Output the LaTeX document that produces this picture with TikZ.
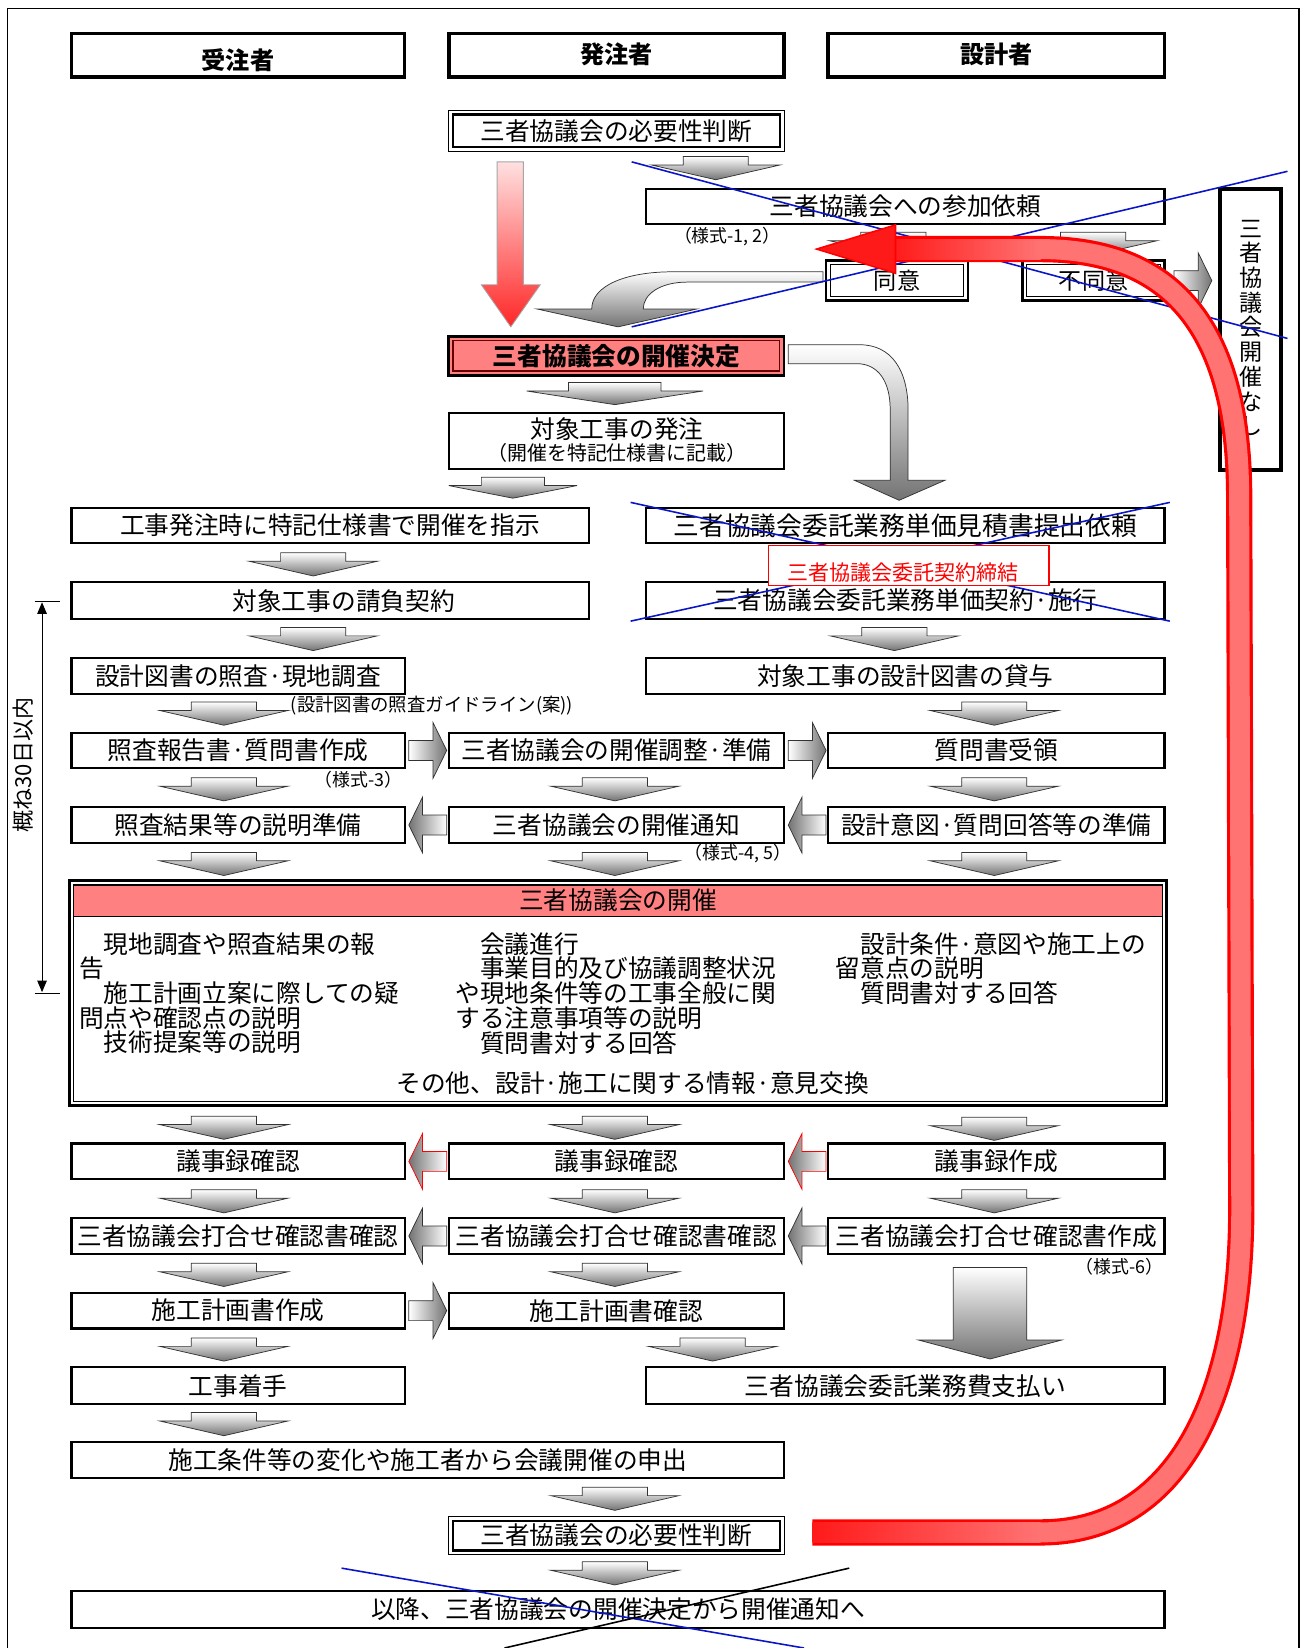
\documentclass[tikz,border=0pt]{standalone}
\usepackage{fontspec}
\setmainfont{Noto Sans CJK JP}
\usetikzlibrary{arrows.meta,calc}
\newcommand\fs[1]{\fontsize{#1}{#1}\selectfont}
\definecolor{salmon}{HTML}{FF8080}
\definecolor{redA}{HTML}{FF1A1A}
\definecolor{redB}{HTML}{FF7373}
\definecolor{lineblue}{HTML}{0A14C8}
\newcommand\bx[7][]{\node[box,minimum width={#5-#3},minimum height={#6-#4},#1] (#2) at ({(#3+#5)/2},{(#4+#6)/2}) {#7};}
\newcommand\innerbox[3]{\draw[line width=#2] ([shift={(#3pt,-#3pt)}]#1.north west) rectangle ([shift={(-#3pt,#3pt)}]#1.south east);}
\newcommand\darr[6]{\draw[barrow,top color=white,bottom color=black!55] ({#1-#4},#2) -- ({#1+#4},#2) -- ({#1+#4},{#2+#5}) -- ({#1+#3},{#2+#5}) -- (#1,{#2+#5+#6}) -- ({#1-#3},{#2+#5}) -- ({#1-#4},{#2+#5}) -- cycle;}
\newcommand\dstd[2]{\darr{#1}{#2}{61}{31}{8}{14}}
\newcommand\rarr[3][black!80]{\draw[barrow,draw=#1,left color=white,right color=black!55] (#2,{#3-9.5}) -- ({#2+23},{#3-9.5}) -- ({#2+23},{#3-26.5}) -- ({#2+36},#3) -- ({#2+23},{#3+26.5}) -- ({#2+23},{#3+9.5}) -- (#2,{#3+9.5}) -- cycle;}
\newcommand\larr[3][black!80]{\draw[barrow,draw=#1,left color=black!55,right color=white] (#2,{#3-9.5}) -- ({#2-23},{#3-9.5}) -- ({#2-23},{#3-26.5}) -- ({#2-36},#3) -- ({#2-23},{#3+26.5}) -- ({#2-23},{#3+9.5}) -- (#2,{#3+9.5}) -- cycle;}
\begin{document}
\begin{tikzpicture}[x=1pt,y=-1pt,
  box/.style={draw,line width=2,inner sep=0,outer sep=0,font=\fs{23.5}},
  hbox/.style={box,line width=3.5},
  lab/.style={inner sep=0,font=\fs{17}},
  barrow/.style={draw=black!80,line width=0.7,line join=miter},
  bl/.style={draw=lineblue,line width=1.5},
  body/.style={anchor=west,inner sep=0,font=\fs{23.5}}]
\useasboundingbox (0,0) rectangle (1241,1568);
\fill[white] (0,0) rectangle (1241,1568);
\draw[line width=1.5] (7,1568) -- (7,8) -- (1236,8) -- (1236,1568);

% headers
\bx[hbox]{h1}{68}{32}{385}{73}{}
\bx[hbox]{h2}{427}{32}{746}{73}{}
\bx[hbox]{h3}{788}{32}{1108}{73}{}
\node[inner sep=0,font=\fs{23}\bfseries] (h1t) at (226.5,57) {受注者};
\node[inner sep=0,font=\fs{23}\bfseries] (h2t) at (586.5,52) {発注者};
\node[inner sep=0,font=\fs{23}\bfseries] (h3t) at (948,52) {設計者};

% top part
\bx[line width=1]{b1}{427}{105}{746}{144}{三者協議会の必要性判断}
\innerbox{b1}{2.5}{4}
\bx{p1}{615}{180}{1108}{213}{三者協議会への参加依頼}
\node[lab] (f12) at (692,225) {（様式-1, 2）};
\bx[line width=2.5,font=\fs{22}]{agree}{786}{248}{921}{286}{同意}
\innerbox{agree}{1}{4}
\bx[line width=2.5,font=\fs{22}]{disagree}{973}{248}{1108}{286}{不同意}
\innerbox{disagree}{1}{4}
\bx[line width=3.5]{none}{1161}{180}{1219}{447}{}
\node[inner sep=0,align=center,font=\fontsize{22}{23.5}\selectfont] (nonet) at (1190,312) {三\\者\\協\\議\\会\\開\\催\\な\\し};
\bx[line width=2.5,fill=salmon,font=\fs{23.5}\bfseries]{kettei}{427}{320}{746}{357}{三者協議会の開催決定}
\draw[line width=1,draw=black!60!red] ([shift={(4pt,-4pt)}]kettei.north west) rectangle ([shift={(-4pt,4pt)}]kettei.south east);
\bx[align=center]{hatchu}{427}{393}{746}{446}{}
\node[inner sep=0,font=\fs{23.5}] (hat1) at (587,408) {対象工事の発注};
\node[inner sep=0,font=\fs{19}] (hat2) at (587,431) {（開催を特記仕様書に記載）};

% rows
\bx{l1}{68}{483}{560}{517}{工事発注時に特記仕様書で開催を指示}
\bx[font=\fs{24.5}]{r1}{615}{483}{1108}{517}{三者協議会委託業務単価見積書提出依頼}
\bx{l2}{68}{554}{560}{589}{\hspace*{26pt}対象工事の請負契約}
\bx{r2}{615}{554}{1108}{589}{三者協議会委託業務単価契約·施行}
\bx{l3}{68}{626}{385}{660}{設計図書の照査·現地調査}
\bx{r3}{615}{626}{1108}{660}{対象工事の設計図書の貸与}
\bx{l4}{68}{697}{385}{731}{照査報告書·質問書作成}
\bx{m4}{427}{697}{746}{731}{三者協議会の開催調整·準備}
\bx{r4}{788}{697}{1108}{731}{質問書受領}
\bx{l5}{68}{768}{385}{802}{照査結果等の説明準備}
\bx{m5}{427}{768}{746}{802}{三者協議会の開催通知}
\bx{r5}{788}{768}{1108}{802}{設計意図·質問回答等の準備}
\node[inner sep=0,font=\fs{17.5}] (gl) at (411,671) {(設計図書の照査ガイドライン(案))};
\node[lab] (f3) at (341,742) {（様式-3）};
\node[lab] (f45) at (702,812) {（様式-4, 5）};

% meeting
\bx[line width=2.5]{meet}{66}{838}{1110}{1052}{}
\fill[salmon] (70,842) rectangle (1106,872);
\draw[line width=1.2] (70,872) -- (1106,872);
\innerbox{meet}{1.2}{4}
\node[inner sep=0,font=\fs{23.5}] (mt) at (588,856.5) {三者協議会の開催};
\node[body] (c11) at (75,898) {　現地調査や照査結果の報};
\node[body] (c12) at (75,921.5) {告};
\node[body] (c13) at (75,945) {　施工計画立案に際しての疑};
\node[body] (c14) at (75,968.5) {問点や確認点の説明};
\node[body] (c15) at (75,992) {　技術提案等の説明};
\node[body] (c21) at (433,898) {　会議進行};
\node[body] (c22) at (433,921.5) {　事業目的及び協議調整状況};
\node[body] (c23) at (433,945) {や現地条件等の工事全般に関};
\node[body] (c24) at (433,968.5) {する注意事項等の説明};
\node[body] (c25) at (433,992) {　質問書対する回答};
\node[body] (c31) at (795,898) {　設計条件·意図や施工上の};
\node[body] (c32) at (795,921.5) {留意点の説明};
\node[body] (c33) at (795,945) {　質問書対する回答};
\node[inner sep=0,font=\fs{23.5}] (c4) at (602,1031) {その他、設計·施工に関する情報·意見交換};

\bx{l6}{68}{1088}{385}{1122}{議事録確認}
\bx{m6}{427}{1088}{746}{1122}{議事録確認}
\bx{r6}{788}{1088}{1108}{1122}{議事録作成}
\bx{l7}{68}{1159}{385}{1193}{三者協議会打合せ確認書確認}
\bx{m7}{427}{1159}{746}{1193}{三者協議会打合せ確認書確認}
\bx{r7}{788}{1159}{1108}{1193}{三者協議会打合せ確認書作成}
\node[lab] (f6) at (1065,1205) {（様式-6）};
\bx{l8}{68}{1230}{385}{1264}{施工計画書作成}
\bx{m8}{427}{1230}{746}{1264}{施工計画書確認}
\bx{l9}{68}{1301}{385}{1336}{工事着手}
\bx{r9}{615}{1301}{1108}{1336}{三者協議会委託業務費支払い}
\bx{l10}{68}{1372}{746}{1406}{施工条件等の変化や施工者から会議開催の申出}
\bx[line width=1]{m11}{427}{1443}{746}{1479}{三者協議会の必要性判断}
\innerbox{m11}{2.5}{4}
\bx{l12}{68}{1514}{1108}{1549}{以降、三者協議会の開催決定から開催通知へ}

% 30 days
\draw[line width=1,{Triangle[width=9pt,length=11pt]}-{Triangle[width=9pt,length=11pt]}] (40,573) -- (40,944);
\draw[line width=1] (33,572) -- (57,572) (33,945) -- (57,945);
\node[rotate=90,inner sep=0,font=\fs{21}] (days) at (22,728) {概ね30日以内};

% block arrows
\dstd{681}{149}
\dstd{850}{221}
\dstd{1040}{221}
\darr{585}{364}{84}{44}{8}{13}
\darr{488}{454}{61}{30}{8}{12}
\dstd{298}{526}
\dstd{298}{597}
\dstd{851}{597}
\dstd{213}{668}
\dstd{946}{668}
\dstd{213}{740} \dstd{585}{740} \dstd{946}{740}
\dstd{213}{811} \dstd{585}{811} \dstd{946}{811}
\dstd{213}{1062} \dstd{585}{1062} \dstd{946}{1063}
\dstd{213}{1132} \dstd{585}{1132} \dstd{946}{1132}
\dstd{213}{1202} \dstd{585}{1202}
\dstd{213}{1273} \dstd{678}{1273}
\dstd{213}{1344}
\dstd{585}{1415}
\dstd{585}{1486}
\darr{942}{1206}{68}{35}{69}{18}
\rarr{389}{714} \rarr{750}{714}
\larr{425}{785} \larr{786}{785}
\larr[red]{425}{1105} \larr[red]{786}{1105}
\larr{425}{1176} \larr{786}{1176}
\rarr{389}{1247}
\rarr{1117}{267}
% curved arrows
\draw[barrow,top color=white,bottom color=black!55] (783,258.6) -- (640,258.6) .. controls (595,258.6) and (563,272) .. (563,294) -- (511,294) -- (588,311) -- (663,294) -- (612,294) .. controls (612,280) and (628,268.4) .. (654,268.4) -- (783,268.4) -- cycle;
\draw[barrow,top color=white,bottom color=black!55] (750,328) -- (818,328) .. controls (848,328) and (864,352) .. (864,390) -- (864,457) -- (899,457) -- (855.5,476) -- (813,457) -- (847,457) -- (847,390) .. controls (847,362) and (835,346) .. (815,346) -- (750,346) -- cycle;
% red vertical arrow
\draw[draw=black!35,line width=0.8,top color=red!12,bottom color=red!85] (473,154) -- (498,154) -- (498,271) -- (514,271) -- (486,311) -- (458,271) -- (473,271) -- cycle;

% blue cancel lines
\draw[bl] (601,154) -- (1225,322);
\draw[bl] (601,311) -- (1225,163);
\draw[bl] (600,478) -- (1113,591);
\draw[bl] (1113,478) -- (600,591);
\node[draw=red,line width=1.5,fill=white,minimum width=267,minimum height=38,inner sep=0] (redbox) at (864.5,538) {};
\node[inner sep=0,text=red,font=\fs{20}] (redt) at (859,545) {三者協議会委託契約締結};
\draw[bl] (325,1492) -- (765,1568);
\draw[line width=1.5] (808,1492) -- (480,1568);

% big red return arrow
\draw[red,line width=25,line join=round] (850,237) -- (990,237) .. controls (1105,237) and (1178,300) .. (1179,470) -- (1181,1150) .. controls (1181,1330) and (1120,1458) .. (990,1458) -- (773,1458);
\draw[redB,line width=19,line join=round] (850,237) -- (990,237) .. controls (1105,237) and (1178,300) .. (1179,470) -- (1181,1150) .. controls (1181,1330) and (1120,1458) .. (990,1458) -- (773,1458);
\shade[left color=redA,right color=redB] (849,227.5) rectangle (990,246.5);
\shade[left color=redA,right color=redB] (773,1448.5) rectangle (990,1467.5);
\draw[red,line width=1.5,fill=redA,line join=miter] (777,237) -- (852,214) -- (852,260) -- cycle;
\end{tikzpicture}
\end{document}
